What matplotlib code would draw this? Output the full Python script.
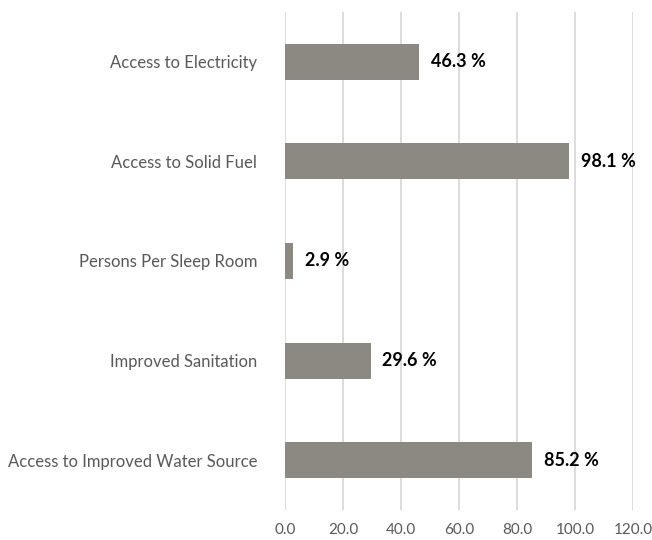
import matplotlib
matplotlib.use("Agg")
import matplotlib.pyplot as plt

categories = ["Access to Electricity", "Access to Solid Fuel", "Persons Per Sleep Room",
              "Improved Sanitation", "Access to Improved Water Source"]
values = [46.3, 98.1, 2.9, 29.6, 85.2]
xticks = [0, 20, 40, 60, 80, 100, 120]

fig = plt.figure(figsize=(6.52, 5.4), dpi=100)
ax = fig.add_axes([285/652, 1-510/540, 348/652, 498/540])

y = list(range(len(categories)))
ax.barh(y, values, height=0.36, color="#8c8882", zorder=3)
ax.set_ylim(len(categories)-0.5, -0.5)
ax.set_xlim(0, 120)
ax.set_xticks(xticks)
ax.set_xticklabels([f"{v:.1f}" for v in xticks], fontsize=11, color="#595959",
                   family=["Lato", "DejaVu Sans"])
ax.set_yticks(y)
ax.set_yticklabels(categories, fontsize=12, color="#595959",
                   family=["Lato", "DejaVu Sans"])
ax.tick_params(axis="both", length=0)
ax.tick_params(axis="y", pad=20)
ax.tick_params(axis="x", pad=9)
ax.grid(axis="x", color="#d9d9d9", linewidth=1.3, zorder=0)
for s in ax.spines.values():
    s.set_visible(False)
for yi, v in zip(y, values):
    ax.text(v + 4, yi, f"{v} %", va="center", ha="left", fontsize=13,
            fontweight="bold", color="black", family=["Lato", "DejaVu Sans"])

fig.savefig("out.png", dpi=100)
